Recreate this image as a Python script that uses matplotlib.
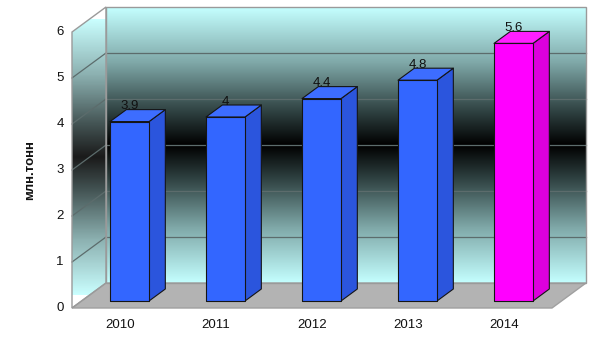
import numpy as np
import matplotlib
matplotlib.use('Agg')
import matplotlib.pyplot as plt
from matplotlib.colors import LinearSegmentedColormap
from matplotlib.patches import Polygon

years = ['2010', '2011', '2012', '2013', '2014']
values = [3.9, 4.0, 4.4, 4.8, 5.6]
yticks = [0, 1, 2, 3, 4, 5, 6]
ylabel = 'млн.тонн'

front_cols = ['#3366ff', '#3366ff', '#3366ff', '#3366ff', '#ff00ff']
side_cols = ['#2b55dd', '#2b55dd', '#2b55dd', '#2b55dd', '#dd00dd']
top_cols = ['#3d6dff', '#3d6dff', '#3d6dff', '#3d6dff', '#ff1fff']

plt.rcParams['font.family'] = ['Liberation Sans', 'DejaVu Sans']

# depth offsets (full depth) in data units
DX = 34 / 96
DY = 25 / 46
YMAX = 6


def proj(x, v, d):
    return (x + d * DX, v + d * DY)


fig = plt.figure(figsize=(6.05, 3.4), dpi=100)
ax = fig.add_axes([0, 0, 1, 1])
ax.set_xlim(-120 / 96, 485 / 96)
ax.set_ylim(-32 / 46, 308 / 46)
ax.axis('off')

cmap = LinearSegmentedColormap.from_list('wall', [
    (0.0, '#c4ffff'), (0.2, '#7fa8a8'), (0.38, '#2e4040'), (0.5, '#000000'),
    (0.62, '#2e4040'), (0.8, '#7fa8a8'), (1.0, '#c4ffff')])
grad = np.linspace(0, 1, 256).reshape(-1, 1)

# back wall
x0, x1 = -0.5, len(years) - 0.5
ax.imshow(grad, cmap=cmap, aspect='auto', interpolation='bilinear',
          extent=[x0 + DX, x1 + DX, DY, YMAX + DY], zorder=1)
ax.add_patch(Polygon([proj(x0, 0, 1), proj(x1, 0, 1), proj(x1, YMAX, 1), proj(x0, YMAX, 1)],
                     closed=True, fill=False, edgecolor='#9a9a9a', lw=1, zorder=3))

# left wall
lw_poly = Polygon([proj(x0, 0, 0), proj(x0, YMAX, 0), proj(x0, YMAX, 1), proj(x0, 0, 1)],
                  closed=True, fill=False, edgecolor='#9a9a9a', lw=1, zorder=3)
ax.add_patch(lw_poly)
im = ax.imshow(grad, cmap=cmap, aspect='auto', interpolation='bilinear',
               extent=[x0, x0 + DX, DY / 2, YMAX + DY / 2], zorder=1, alpha=0.9)
im.set_clip_path(lw_poly)

# floor
ax.add_patch(Polygon([proj(x0, 0, 0), proj(x1, 0, 0), proj(x1, 0, 1), proj(x0, 0, 1)],
                     closed=True, facecolor='#b3b3b3', edgecolor='#a0a0a0', lw=1, zorder=2))

# gridlines
for v in yticks[1:-1]:
    xa, ya = proj(x0, v, 1)
    xb, yb = proj(x1, v, 1)
    ax.plot([xa, xb], [ya, yb], color='#5c6c6c', lw=0.9, zorder=2)
    xc, yc = proj(x0, v, 0)
    ax.plot([xc, xa], [yc, ya], color='#5c6c6c', lw=0.9, zorder=2)

# bars
hw = 0.203
d0, d1 = 0.28, 0.76
for i, v in enumerate(values):
    front = [proj(i - hw, 0, d0), proj(i + hw, 0, d0), proj(i + hw, v, d0), proj(i - hw, v, d0)]
    side = [proj(i + hw, 0, d0), proj(i + hw, 0, d1), proj(i + hw, v, d1), proj(i + hw, v, d0)]
    top = [proj(i - hw, v, d0), proj(i + hw, v, d0), proj(i + hw, v, d1), proj(i - hw, v, d1)]
    for pts, c in [(side, side_cols[i]), (top, top_cols[i]), (front, front_cols[i])]:
        ax.add_patch(Polygon(pts, closed=True, facecolor=c, edgecolor='#151515',
                             lw=0.8, joinstyle='round', zorder=4))
    lx, ly = proj(i, v, d1)
    ax.text(i + d0 * DX, ly - 0.06, format(v, 'g'), ha='center', va='bottom',
            fontsize=9.5, color='#111111', zorder=5)

# tick labels
for v in yticks:
    ax.text(-0.585, v, str(v), ha='right', va='center', fontsize=9.5, color='#111111')
for i, y in enumerate(years):
    ax.text(i, -0.38, y, ha='center', va='center', fontsize=9.5, color='#111111')

ax.text(-0.94, 3, ylabel, rotation=90, ha='center', va='center',
        fontsize=9.5, fontweight='bold', color='#111111')

fig.savefig('out.png', dpi=100)
